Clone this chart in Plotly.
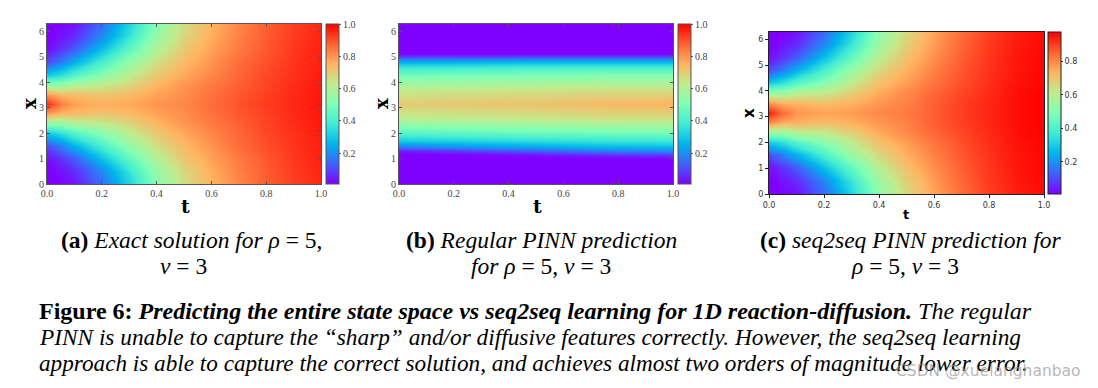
import numpy as np
import plotly.graph_objects as go

W, H = 1098, 388

# ---------------- data ----------------
# (a) exact solution, rho=5, nu=3 : rows = t, columns = x
t_a = [0.0, 0.05, 0.1, 0.2, 0.3, 0.4, 0.5, 0.6, 0.7, 0.8, 0.9, 1.0]
x_a = [0.0, 0.5, 1.0, 1.5, 2.0, 2.4, 2.8, 3.14, 3.5, 3.9, 4.3, 4.8, 5.3, 5.8, 6.28]
u_a = [
    [0.00, 0.00, 0.02, 0.10, 0.30, 0.55, 0.80, 0.95, 0.80, 0.55, 0.30, 0.10, 0.02, 0.00, 0.00],
    [0.01, 0.03, 0.07, 0.17, 0.35, 0.55, 0.75, 0.84, 0.75, 0.55, 0.35, 0.17, 0.07, 0.03, 0.01],
    [0.03, 0.06, 0.12, 0.25, 0.42, 0.60, 0.74, 0.78, 0.74, 0.60, 0.42, 0.25, 0.12, 0.06, 0.03],
    [0.15, 0.19, 0.28, 0.40, 0.52, 0.63, 0.72, 0.76, 0.72, 0.63, 0.52, 0.40, 0.28, 0.19, 0.15],
    [0.32, 0.36, 0.44, 0.54, 0.62, 0.68, 0.74, 0.77, 0.74, 0.68, 0.62, 0.54, 0.44, 0.36, 0.32],
    [0.52, 0.55, 0.60, 0.66, 0.71, 0.75, 0.78, 0.80, 0.78, 0.75, 0.71, 0.66, 0.60, 0.55, 0.52],
    [0.66, 0.68, 0.71, 0.74, 0.77, 0.80, 0.81, 0.82, 0.81, 0.80, 0.77, 0.74, 0.71, 0.68, 0.66],
    [0.75, 0.76, 0.78, 0.80, 0.82, 0.84, 0.85, 0.86, 0.85, 0.84, 0.82, 0.80, 0.78, 0.76, 0.75],
    [0.82, 0.83, 0.84, 0.86, 0.87, 0.88, 0.89, 0.895, 0.89, 0.88, 0.87, 0.86, 0.84, 0.83, 0.82],
    [0.88, 0.885, 0.89, 0.90, 0.91, 0.915, 0.92, 0.925, 0.92, 0.915, 0.91, 0.90, 0.89, 0.885, 0.88],
    [0.92, 0.925, 0.93, 0.935, 0.94, 0.945, 0.95, 0.95, 0.95, 0.945, 0.94, 0.935, 0.93, 0.925, 0.92],
    [0.95, 0.955, 0.96, 0.96, 0.965, 0.97, 0.97, 0.975, 0.97, 0.97, 0.965, 0.96, 0.96, 0.955, 0.95],
]

# (b) regular PINN prediction
t_b = [0.0, 0.25, 0.5, 0.75, 1.0]
x_b = [0.0, 1.0, 1.15, 1.3, 1.45, 1.7, 2.1, 2.6, 3.14, 3.7, 4.2, 4.5, 4.7, 4.85, 5.0, 5.15, 6.28]
u_b = [
    [0.0, 0.0, 0.00, 0.04, 0.16, 0.30, 0.45, 0.62, 0.70, 0.63, 0.50, 0.40, 0.30, 0.20, 0.10, 0.0, 0.0],
    [0.0, 0.0, 0.01, 0.08, 0.20, 0.32, 0.47, 0.63, 0.71, 0.64, 0.51, 0.41, 0.31, 0.21, 0.10, 0.0, 0.0],
    [0.0, 0.0, 0.03, 0.12, 0.23, 0.34, 0.49, 0.64, 0.72, 0.65, 0.52, 0.42, 0.32, 0.22, 0.11, 0.0, 0.0],
    [0.0, 0.0, 0.06, 0.16, 0.26, 0.36, 0.50, 0.66, 0.74, 0.66, 0.53, 0.43, 0.32, 0.22, 0.11, 0.0, 0.0],
    [0.0, 0.0, 0.08, 0.18, 0.27, 0.37, 0.51, 0.66, 0.75, 0.66, 0.53, 0.43, 0.32, 0.22, 0.11, 0.0, 0.0],
]

# (c) seq2seq PINN prediction
t_c = [0.0, 0.05, 0.1, 0.2, 0.3, 0.4, 0.5, 0.6, 0.7, 0.8, 0.9, 1.0]
x_c = [0.0, 0.5, 1.0, 1.5, 2.0, 2.4, 2.8, 3.14, 3.5, 3.9, 4.3, 4.8, 5.3, 5.8, 6.28]
u_c = [
    [0.00, 0.00, 0.02, 0.10, 0.30, 0.55, 0.80, 0.94, 0.80, 0.55, 0.30, 0.10, 0.02, 0.00, 0.00],
    [0.01, 0.03, 0.07, 0.17, 0.35, 0.55, 0.75, 0.84, 0.75, 0.55, 0.35, 0.17, 0.07, 0.03, 0.01],
    [0.03, 0.06, 0.12, 0.25, 0.42, 0.60, 0.74, 0.78, 0.74, 0.60, 0.42, 0.25, 0.12, 0.06, 0.03],
    [0.14, 0.18, 0.27, 0.39, 0.51, 0.62, 0.72, 0.76, 0.72, 0.62, 0.51, 0.39, 0.27, 0.18, 0.14],
    [0.32, 0.36, 0.44, 0.54, 0.62, 0.68, 0.74, 0.77, 0.74, 0.68, 0.62, 0.54, 0.44, 0.36, 0.32],
    [0.52, 0.55, 0.60, 0.66, 0.71, 0.75, 0.78, 0.80, 0.78, 0.75, 0.71, 0.66, 0.60, 0.55, 0.52],
    [0.66, 0.68, 0.71, 0.74, 0.77, 0.80, 0.81, 0.82, 0.81, 0.80, 0.77, 0.74, 0.71, 0.68, 0.66],
    [0.76, 0.77, 0.79, 0.81, 0.83, 0.85, 0.86, 0.86, 0.86, 0.85, 0.83, 0.81, 0.79, 0.77, 0.76],
    [0.84, 0.85, 0.86, 0.87, 0.88, 0.89, 0.90, 0.90, 0.90, 0.89, 0.88, 0.87, 0.86, 0.85, 0.84],
    [0.90, 0.905, 0.91, 0.915, 0.92, 0.925, 0.93, 0.93, 0.93, 0.925, 0.92, 0.915, 0.91, 0.905, 0.90],
    [0.94, 0.945, 0.95, 0.95, 0.955, 0.96, 0.96, 0.96, 0.96, 0.96, 0.955, 0.95, 0.95, 0.945, 0.94],
    [0.965, 0.965, 0.97, 0.97, 0.97, 0.975, 0.975, 0.975, 0.975, 0.975, 0.97, 0.97, 0.97, 0.965, 0.965],
]

t_ticks = [0.0, 0.2, 0.4, 0.6, 0.8, 1.0]
t_ticklabels = ["0.0", "0.2", "0.4", "0.6", "0.8", "1.0"]
x_ticks = [0, 1, 2, 3, 4, 5, 6]
x_ticklabels = ["0", "1", "2", "3", "4", "5", "6"]
cb_ticks = [0.2, 0.4, 0.6, 0.8, 1.0]
cb_ticklabels = ["0.2", "0.4", "0.6", "0.8", "1.0"]
cb_ticks_c = [0.2, 0.4, 0.6, 0.8]
cb_ticklabels_c = ["0.2", "0.4", "0.6", "0.8"]

# matplotlib 'rainbow' colormap stops
rainbow = [
    [0.0, "rgb(128,0,255)"], [0.125, "rgb(64,98,250)"], [0.25, "rgb(0,180,236)"],
    [0.375, "rgb(64,236,212)"], [0.5, "rgb(128,255,180)"], [0.625, "rgb(191,236,142)"],
    [0.75, "rgb(255,180,98)"], [0.875, "rgb(255,98,50)"], [1.0, "rgb(255,0,0)"],
]

def px_x(p):
    return p / W

def px_y(p):
    return 1 - p / H

fig = go.Figure()
fig.add_trace(go.Heatmap(x=t_a, y=x_a, z=np.array(u_a).T, zsmooth="best",
                         coloraxis="coloraxis", xaxis="x", yaxis="y", hoverinfo="skip"))
fig.add_trace(go.Heatmap(x=t_b, y=x_b, z=np.array(u_b).T, zsmooth="best",
                         coloraxis="coloraxis2", xaxis="x2", yaxis="y2", hoverinfo="skip"))
fig.add_trace(go.Heatmap(x=t_c, y=x_c, z=np.array(u_c).T, zsmooth="best",
                         coloraxis="coloraxis3", xaxis="x3", yaxis="y3", hoverinfo="skip"))

serif_tick = dict(family="Liberation Serif", size=10, color="#444")
sans_tick = dict(family="DejaVu Sans", size=8, color="#333")

def ax_serif(domain, anchor, vals, texts, rng):
    return dict(domain=domain, anchor=anchor, range=rng, tickvals=vals, ticktext=texts,
                ticks="inside", ticklen=3, tickcolor="#555", mirror="allticks",
                showline=True, linecolor="#555", linewidth=1, showgrid=False,
                zeroline=False, tickfont=serif_tick, automargin=False)

def ax_sans(domain, anchor, vals, texts, rng):
    return dict(domain=domain, anchor=anchor, range=rng, tickvals=vals, ticktext=texts,
                ticks="outside", ticklen=3, tickcolor="#222", mirror=True,
                showline=True, linecolor="#222", linewidth=1, showgrid=False,
                zeroline=False, tickfont=sans_tick, automargin=False)

def cbar(xpx, ytop, length, vals, texts, font, tcol):
    return dict(x=px_x(xpx), xanchor="left", xpad=0, ypad=0,
                y=px_y(ytop), yanchor="top", len=length, lenmode="pixels",
                thickness=13, thicknessmode="pixels", outlinewidth=1, outlinecolor=tcol,
                tickvals=vals, ticktext=texts, ticks="outside", ticklen=2,
                tickcolor=tcol, tickfont=font)

fig.update_layout(
    width=W, height=H, margin=dict(l=0, r=0, t=0, b=0, autoexpand=False),
    paper_bgcolor="white", plot_bgcolor="white", showlegend=False,
    xaxis=ax_serif([px_x(47), px_x(321)], "y", t_ticks, t_ticklabels, [0, 1]),
    yaxis=ax_serif([px_y(184), px_y(24)], "x", x_ticks, x_ticklabels, [0, 6.283]),
    xaxis2=ax_serif([px_x(399), px_x(673)], "y2", t_ticks, t_ticklabels, [0, 1]),
    yaxis2=ax_serif([px_y(184), px_y(24)], "x2", x_ticks, x_ticklabels, [0, 6.283]),
    xaxis3=ax_sans([px_x(769), px_x(1044)], "y3", t_ticks, t_ticklabels, [0, 1]),
    yaxis3=ax_sans([px_y(194), px_y(32)], "x3", x_ticks, x_ticklabels, [0, 6.283]),
    coloraxis=dict(colorscale=rainbow, cmin=0.008, cmax=1.0,
                   colorbar=cbar(326, 24, 160, cb_ticks, cb_ticklabels, serif_tick, "#555")),
    coloraxis2=dict(colorscale=rainbow, cmin=0.008, cmax=1.0,
                    colorbar=cbar(678, 24, 160, cb_ticks, cb_ticklabels, serif_tick, "#555")),
    coloraxis3=dict(colorscale=rainbow, cmin=0.008, cmax=0.976,
                    colorbar=cbar(1048, 32, 162, cb_ticks_c, cb_ticklabels_c, sans_tick, "#222")),
)

def note(text, xpx, ypx, size, family="Liberation Serif", xanchor="center", angle=0, color="black"):
    fig.add_annotation(text=text, x=px_x(xpx), y=px_y(ypx), xref="paper", yref="paper",
                       xanchor=xanchor, yanchor="middle", showarrow=False, textangle=angle,
                       font=dict(family=family, size=size, color=color))

# axis titles
note("<b>t</b>", 185, 206, 19, family="DejaVu Serif")
note("<b>x</b>", 30, 104, 18, family="DejaVu Serif", angle=-90)
note("<b>t</b>", 537, 206, 19, family="DejaVu Serif")
note("<b>x</b>", 382, 104, 18, family="DejaVu Serif", angle=-90)
note("<b>t</b>", 906, 214, 13, family="DejaVu Sans")
note("<b>x</b>", 749, 113, 15, family="DejaVu Sans", angle=-90)

# sub-captions
CAP = 23.5
note("<b>(a)</b> <i>Exact solution for ρ</i> = 5,", 191, 240, CAP)
note("<i>ν</i> = 3", 183, 266, CAP)
note("<b>(b)</b> <i>Regular PINN prediction</i>", 541, 240, CAP)
note("<i>for ρ</i> = 5, <i>ν</i> = 3", 541, 266, CAP)
note("<b>(c)</b> <i>seq2seq PINN prediction for</i>", 911, 240, CAP)
note("<i>ρ</i> = 5, <i>ν</i> = 3", 905, 266, CAP)

# figure caption
note("<b>Figure 6:</b> <b><i>Predicting the entire state space vs seq2seq learning for 1D reaction-diffusion.</i></b> <i>The regular</i>",
     37, 311, 24, xanchor="left")
note("<i>PINN is unable to capture the “sharp” and/or diffusive features correctly. However, the seq2seq learning</i>",
     37, 337, 23.3, xanchor="left")
note("<i>approach is able to capture the correct solution, and achieves almost two orders of magnitude lower error.</i>",
     37, 363, 23.2, xanchor="left")

note("CSDN @xuelanghanbao", 1083, 371, 15.5, family="DejaVu Sans", xanchor="right",
     color="rgba(150,150,150,0.7)")

fig.write_html("out.html", config={"displayModeBar": False},
               post_script="document.body.style.margin='0px';document.body.style.overflow='hidden';")
